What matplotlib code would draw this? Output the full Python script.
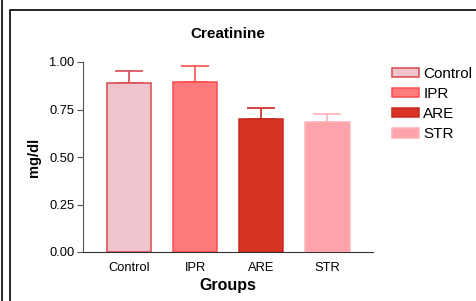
import numpy as np
import matplotlib.pyplot as plt
from matplotlib.patches import Rectangle

groups = ['Control', 'IPR', 'ARE', 'STR']
means = [0.89, 0.895, 0.70, 0.685]
sems = [0.062, 0.083, 0.058, 0.042]

fills = ['#F0C4CC', '#FF7B7B', '#D93326', '#FFA3AB']
edges = ['#D9484E', '#FF4D4D', '#C8281E', '#FFB3BA']

fig = plt.figure(figsize=(4.77, 3.01), dpi=100)
plt.rcParams['font.family'] = ['Liberation Sans', 'DejaVu Sans']

# outer frame lines
fig.add_artist(Rectangle((10 / 477, -0.01), 1.0, 1 - 10 / 301 + 0.01, transform=fig.transFigure,
                         fill=False, edgecolor='black', linewidth=1.2))
fig.add_artist(plt.Line2D([2 / 477, 2 / 477], [0, 1], transform=fig.transFigure,
                          color='black', linewidth=1.2))

ax = fig.add_axes([83 / 477, 1 - 252 / 301, 290 / 477, 190 / 301])
x = np.arange(len(groups))
for i in range(len(groups)):
    ax.errorbar(x[i], means[i], yerr=[[0], [sems[i]]], color=edges[i],
                capsize=10, capthick=1.2, elinewidth=1.2, zorder=1)
    ax.bar(x[i], means[i], width=0.67, color=fills[i], edgecolor=edges[i],
           linewidth=1.1, label=groups[i], zorder=2)

ax.set_xlim(-0.7, 3.69)
ax.set_ylim(0, 1.0)
ax.set_yticks([0, 0.25, 0.5, 0.75, 1.0])
ax.set_yticklabels(['0.00', '0.25', '0.50', '0.75', '1.00'])
ax.set_xticks(x)
ax.set_xticklabels(groups)
ax.tick_params(axis='y', length=4, color='#555555', labelsize=9.3, pad=2)
ax.tick_params(axis='x', length=0, labelsize=9.3, pad=7)
for s in ['top', 'right']:
    ax.spines[s].set_visible(False)
ax.spines['left'].set_color('#555555')
ax.spines['bottom'].set_color('#333333')

ax.set_title('Creatinine', fontsize=11, fontweight='bold', pad=17)
ax.set_ylabel('mg/dl', fontsize=10.5, fontweight='bold', labelpad=6)
ax.set_xlabel('Groups', fontsize=11.5, fontweight='bold', labelpad=3)

ax.legend(loc='upper left', bbox_to_anchor=(1.066, 0.975), frameon=False,
          fontsize=11, handlelength=1.77, handleheight=0.6, handletextpad=0.28,
          labelspacing=0.4, borderaxespad=0, borderpad=0)

plt.savefig('out.png', dpi=100)
